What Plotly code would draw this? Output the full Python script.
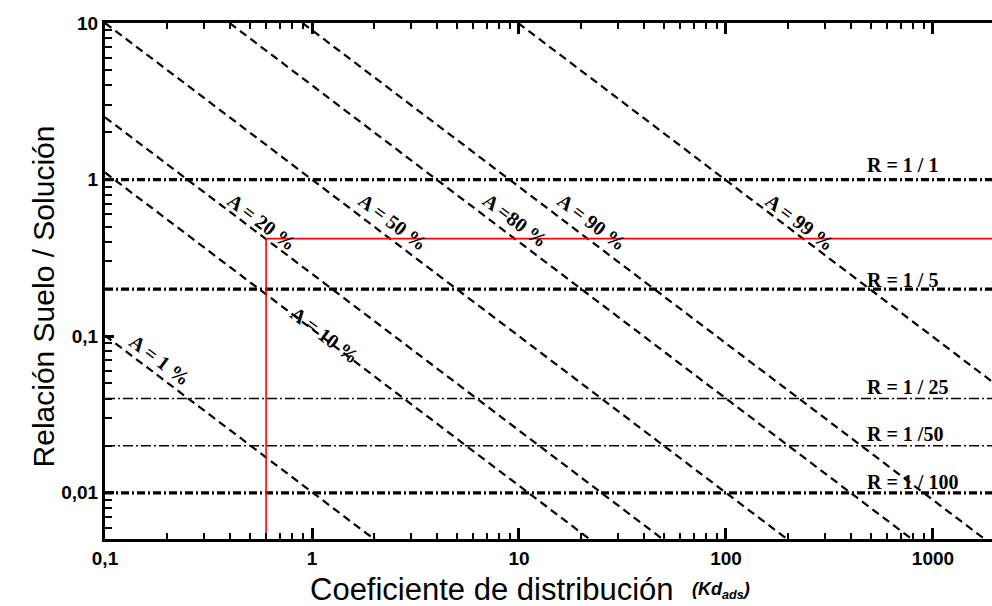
import numpy as np
import plotly.graph_objects as go

# ---- data ----
# iso-adsorption lines (A = % adsorbed): straight lines on log-log axes (endpoints)
A_labels = ["A = 1 %", "A = 10 %", "A = 20 %", "A = 50 %", "A =80 %", "A = 90 %", "A = 99 %"]
A_kd_start = [0.1, 0.1, 0.1, 0.1, 0.4, 0.9, 9.9]
A_r_start = [0.101, 1.11, 2.5, 10, 10, 10, 10]
A_kd_end = [2.02, 22.2, 50, 200, 800, 1800, 19800]
A_r_end = [0.005, 0.005, 0.005, 0.005, 0.005, 0.005, 0.005]
A_label_kd = [0.1845, 1.156, 0.573, 2.46, 9.57, 22.5, 227]
A_label_r = [0.0706, 0.102, 0.537, 0.537, 0.553, 0.537, 0.537]

# soil / solution ratio lines
R_labels = ["R = 1 / 1", "R = 1 / 5", "R = 1 / 25", "R = 1 /50", "R = 1 / 100"]
R_values = [1, 0.2, 0.04, 0.02, 0.01]
R_heavy = [True, True, False, False, True]
R_label_kd = 470
R_label_r = [1.243, 0.229, 0.0477, 0.0238, 0.01164]

# red guide lines
red_kd = [0.6, 0.6, 2000]
red_r = [0.005, 0.42, 0.42]

# axis ticks
x_major_ticks = [0.1, 1, 10, 100, 1000]
x_major_text = ["<b>0,1</b>", "<b>1</b>", "<b>10</b>", "<b>100</b>", "<b>1000</b>"]
y_major_ticks = [0.01, 0.1, 1, 10]
y_major_text = ["<b>0,01</b>", "<b>0,1</b>", "<b>1</b>", "<b>10</b>"]
minor_digits = [2, 3, 4, 5, 6, 7, 8, 9]
decades = [0.001, 0.01, 0.1, 1, 10, 100, 1000]
minor_ticks = [d * m for d in decades for m in minor_digits]

x_min, x_max = 0.1, 1928
y_min, y_max = 0.00507, 10

fig = go.Figure()

for i in range(len(A_labels)):
    fig.add_trace(go.Scatter(
        x=[A_kd_start[i], A_kd_end[i]], y=[A_r_start[i], A_r_end[i]],
        mode="lines", line=dict(color="black", width=2.2, dash="8px,5px"),
        showlegend=False))

for r, heavy in zip(R_values, R_heavy):
    fig.add_trace(go.Scatter(
        x=[x_min, x_max * 2], y=[r, r], mode="lines",
        line=dict(color="black", width=3.2 if heavy else 1.5,
                  dash="8px,3px,2px,3px" if heavy else "10px,3px,2px,3px"),
        showlegend=False))

fig.add_trace(go.Scatter(
    x=red_kd, y=red_r, mode="lines", line=dict(color="#ff0000", width=1.6),
    showlegend=False))

serif = dict(family="Liberation Serif", size=20, color="black")

for lab, kx, ry in zip(A_labels, A_label_kd, A_label_r):
    fig.add_annotation(x=np.log10(kx), y=np.log10(ry), text="<b>" + lab + "</b>",
                       textangle=37, showarrow=False, font=serif, xref="x", yref="y")

for lab, ry in zip(R_labels, R_label_r):
    fig.add_annotation(x=np.log10(R_label_kd), y=np.log10(ry), text="<b>" + lab + "</b>",
                       xanchor="left", yanchor="middle",
                       showarrow=False, font=serif, xref="x", yref="y")

# axis titles
fig.add_annotation(x=-0.0902, y=0.471, xref="paper", yref="paper", textangle=-90,
                   text="Relación Suelo / Solución", showarrow=False,
                   font=dict(family="Liberation Sans", size=30, color="black"))
fig.add_annotation(x=0.2289, y=-0.097, xref="paper", yref="paper", xanchor="left",
                   yanchor="middle", text="Coeficiente de distribución",
                   showarrow=False,
                   font=dict(family="Liberation Sans", size=31, color="black"))
fig.add_annotation(x=0.6595, y=-0.1, xref="paper", yref="paper", xanchor="left",
                   yanchor="middle", text="<b><i>(Kd<sub>ads</sub>)</i></b>",
                   showarrow=False,
                   font=dict(family="Liberation Sans", size=18, color="black"))

tickfont = dict(family="Liberation Sans", size=19, color="black")

fig.update_layout(width=992, height=606,
                  margin=dict(l=105, r=0, t=23, b=67),
                  plot_bgcolor="white", showlegend=False)

fig.update_xaxes(type="log", range=[np.log10(x_min), np.log10(x_max)],
                 tickmode="array", tickvals=x_major_ticks, ticktext=x_major_text,
                 tickfont=tickfont, gridcolor="white",
                 showline=True, linecolor="black", linewidth=3, mirror="ticks",
                 ticks="inside", ticklen=11, tickwidth=2.5, tickcolor="black",
                 minor=dict(ticks="inside", ticklen=6, tickwidth=2, tickcolor="black",
                            tickmode="array", tickvals=minor_ticks,
                            gridcolor="white"))
fig.update_yaxes(type="log", range=[np.log10(y_min), np.log10(y_max)],
                 tickmode="array", tickvals=y_major_ticks, ticktext=y_major_text,
                 tickfont=tickfont, gridcolor="white",
                 showline=True, linecolor="black", linewidth=3,
                 ticks="inside", ticklen=9, tickwidth=2.5, tickcolor="black",
                 minor=dict(ticks="inside", ticklen=7, tickwidth=2, tickcolor="black",
                            tickmode="array", tickvals=minor_ticks,
                            gridcolor="white"))

fig.write_html("out.html")
